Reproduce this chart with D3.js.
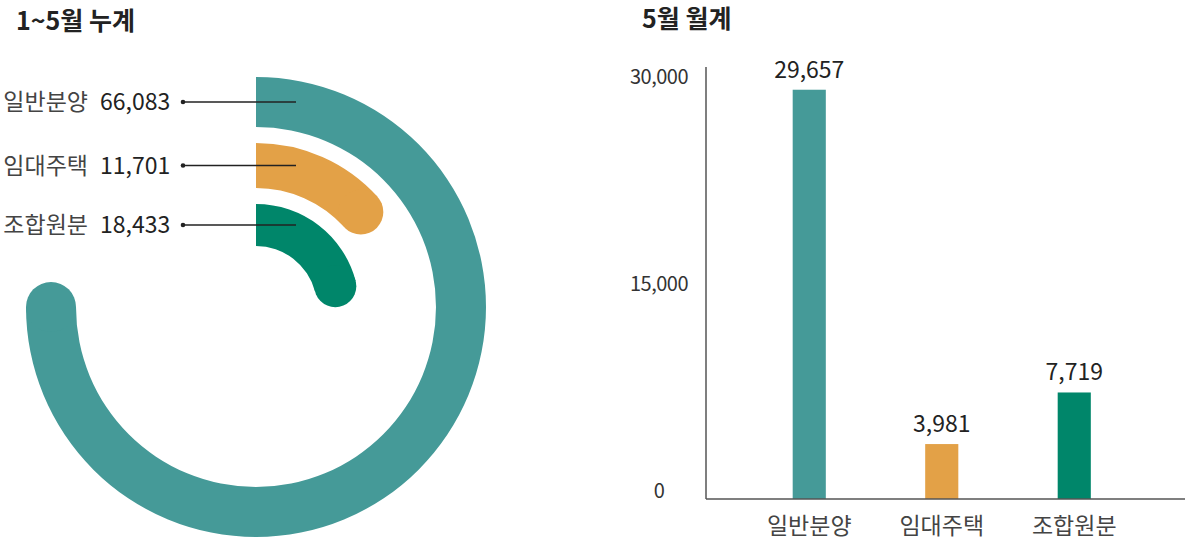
<!DOCTYPE html>
<meta charset='utf-8'>
<style>
	body { margin: 0; background: #fff; }
	svg { display: block; font-family: 'Noto Sans CJK KR', 'Noto Sans', sans-serif; }
</style>
<body>
	<div id='container'></div>
<script src='https://d3js.org/d3.v7.min.js'></script>
<script>
	// 1~5월 누계 (cumulative)
	const cumCategories = ['일반분양', '임대주택', '조합원분'];
	const cumValues = [66083, 11701, 18433];

	// 5월 월계 (monthly)
	const monthCategories = ['일반분양', '임대주택', '조합원분'];
	const monthValues = [29657, 3981, 7719];
	const yTickValues = [0, 15000, 30000];

	const colors = ['#459a98', '#e3a147', '#00866a'];

	const W = 1200, H = 545;

	let svg = d3.select( '#container' )
		.append( 'svg' )
		.attr( 'width', W )
		.attr( 'height', H );

	const fmt = d3.format( ',' );

	// ---------- titles
	svg.append( 'text' )
		.attr( 'x', 16 ).attr( 'y', 30 )
		.attr( 'font-size', 25 ).attr( 'font-weight', 700 )
		.attr( 'fill', '#222' )
		.text( '1~5월 누계' );

	svg.append( 'text' )
		.attr( 'x', 642 ).attr( 'y', 28 )
		.attr( 'font-size', 25 ).attr( 'font-weight', 700 )
		.attr( 'fill', '#222' )
		.text( '5월 월계' );

	// ---------- radial bars
	const cx = 256, cy = 307;
	const rings = [
		{ inner: 180, outer: 230 },
		{ inner: 119, outer: 164 },
		{ inner: 61, outer: 103 },
	];

	let angle = d3.scaleLinear()
		.domain( [0, d3.max( cumValues )] )
		.range( [0, 1.5 * Math.PI] );

	let radial = svg.append( 'g' )
		.attr( 'transform', `translate( ${cx}, ${cy} )` );

	let arc = d3.arc();

	cumValues.forEach( ( v, i ) => {
		const r = rings[i];
		const end = angle( v );
		radial.append( 'path' )
			.attr( 'fill', colors[i] )
			.attr( 'd', arc( { innerRadius: r.inner, outerRadius: r.outer, startAngle: 0, endAngle: end } ) );
		// rounded end cap
		const mid = ( r.inner + r.outer ) / 2;
		radial.append( 'circle' )
			.attr( 'cx', mid * Math.sin( end ) )
			.attr( 'cy', -mid * Math.cos( end ) )
			.attr( 'r', ( r.outer - r.inner ) / 2 )
			.attr( 'fill', colors[i] );
	} );

	// labels with leader lines
	cumValues.forEach( ( v, i ) => {
		const r = rings[i];
		const y = cy - ( r.inner + r.outer ) / 2;
		svg.append( 'text' )
			.attr( 'x', 88 ).attr( 'y', y ).attr( 'dy', '0.35em' )
			.attr( 'text-anchor', 'end' )
			.attr( 'font-size', 23 ).attr( 'fill', '#444' )
			.text( cumCategories[i] );
		svg.append( 'text' )
			.attr( 'x', 100 ).attr( 'y', y ).attr( 'dy', '0.35em' )
			.attr( 'font-size', 23 ).attr( 'fill', '#222' )
			.text( fmt( v ) );
		svg.append( 'line' )
			.attr( 'x1', 183 ).attr( 'x2', 296 )
			.attr( 'y1', y ).attr( 'y2', y )
			.attr( 'stroke', '#222' ).attr( 'stroke-width', 1.3 );
		svg.append( 'circle' )
			.attr( 'cx', 183 ).attr( 'cy', y ).attr( 'r', 2.3 )
			.attr( 'fill', '#222' );
	} );

	// ---------- bar chart
	const baseY = 499, axisX = 706, axisRight = 1185;

	let xScale = d3.scaleBand()
		.domain( monthCategories )
		.range( [743, 1140.5] )
		.paddingInner( 0.75 )
		.paddingOuter( 0.375 );

	let yScale = d3.scaleLinear()
		.domain( [0, 30000] )
		.range( [baseY, 85] );

	let yAxis = d3.axisLeft( yScale )
		.tickValues( yTickValues )
		.tickSize( 0 )
		.tickFormat( fmt );

	let yAxisEl = svg.append( 'g' )
		.attr( 'transform', `translate( ${axisX}, 0 )` )
		.call( yAxis );
	yAxisEl.select( '.domain' ).remove();
	yAxisEl.selectAll( 'text' )
		.attr( 'x', -47 )
		.attr( 'dy', '-0.1em' )
		.attr( 'text-anchor', 'middle' )
		.attr( 'font-family', "'Noto Sans CJK KR', sans-serif" )
		.attr( 'font-size', 20 )
		.attr( 'letter-spacing', -0.5 )
		.attr( 'fill', '#333' );

	// axis lines
	svg.append( 'line' )
		.attr( 'x1', axisX ).attr( 'x2', axisX )
		.attr( 'y1', yScale( 30000 ) - 18 ).attr( 'y2', baseY )
		.attr( 'stroke', '#555' ).attr( 'stroke-width', 1.5 );

	svg.selectAll( '.bar' )
		.data( monthValues )
		.enter().append( 'rect' )
			.attr( 'class', 'bar' )
			.attr( 'x', ( d, i ) => xScale( monthCategories[i] ) )
			.attr( 'y', d => yScale( d ) )
			.attr( 'width', xScale.bandwidth() )
			.attr( 'height', d => baseY - yScale( d ) )
			.attr( 'fill', ( d, i ) => colors[i] );

	svg.append( 'line' )
		.attr( 'x1', axisX ).attr( 'x2', axisRight )
		.attr( 'y1', baseY ).attr( 'y2', baseY )
		.attr( 'stroke', '#555' ).attr( 'stroke-width', 1.5 );

	svg.selectAll( '.bar-label' )
		.data( monthValues )
		.enter().append( 'text' )
			.attr( 'class', 'bar-label' )
			.attr( 'x', ( d, i ) => xScale( monthCategories[i] ) + xScale.bandwidth() / 2 )
			.attr( 'y', d => yScale( d ) - 12 )
			.attr( 'text-anchor', 'middle' )
			.attr( 'font-size', 23 ).attr( 'fill', '#222' )
			.text( d => fmt( d ) );

	svg.selectAll( '.cat-label' )
		.data( monthCategories )
		.enter().append( 'text' )
			.attr( 'class', 'cat-label' )
			.attr( 'x', d => xScale( d ) + xScale.bandwidth() / 2 )
			.attr( 'y', 534 )
			.attr( 'text-anchor', 'middle' )
			.attr( 'font-size', 23 ).attr( 'fill', '#444' )
			.text( d => d );
</script>
</body>
